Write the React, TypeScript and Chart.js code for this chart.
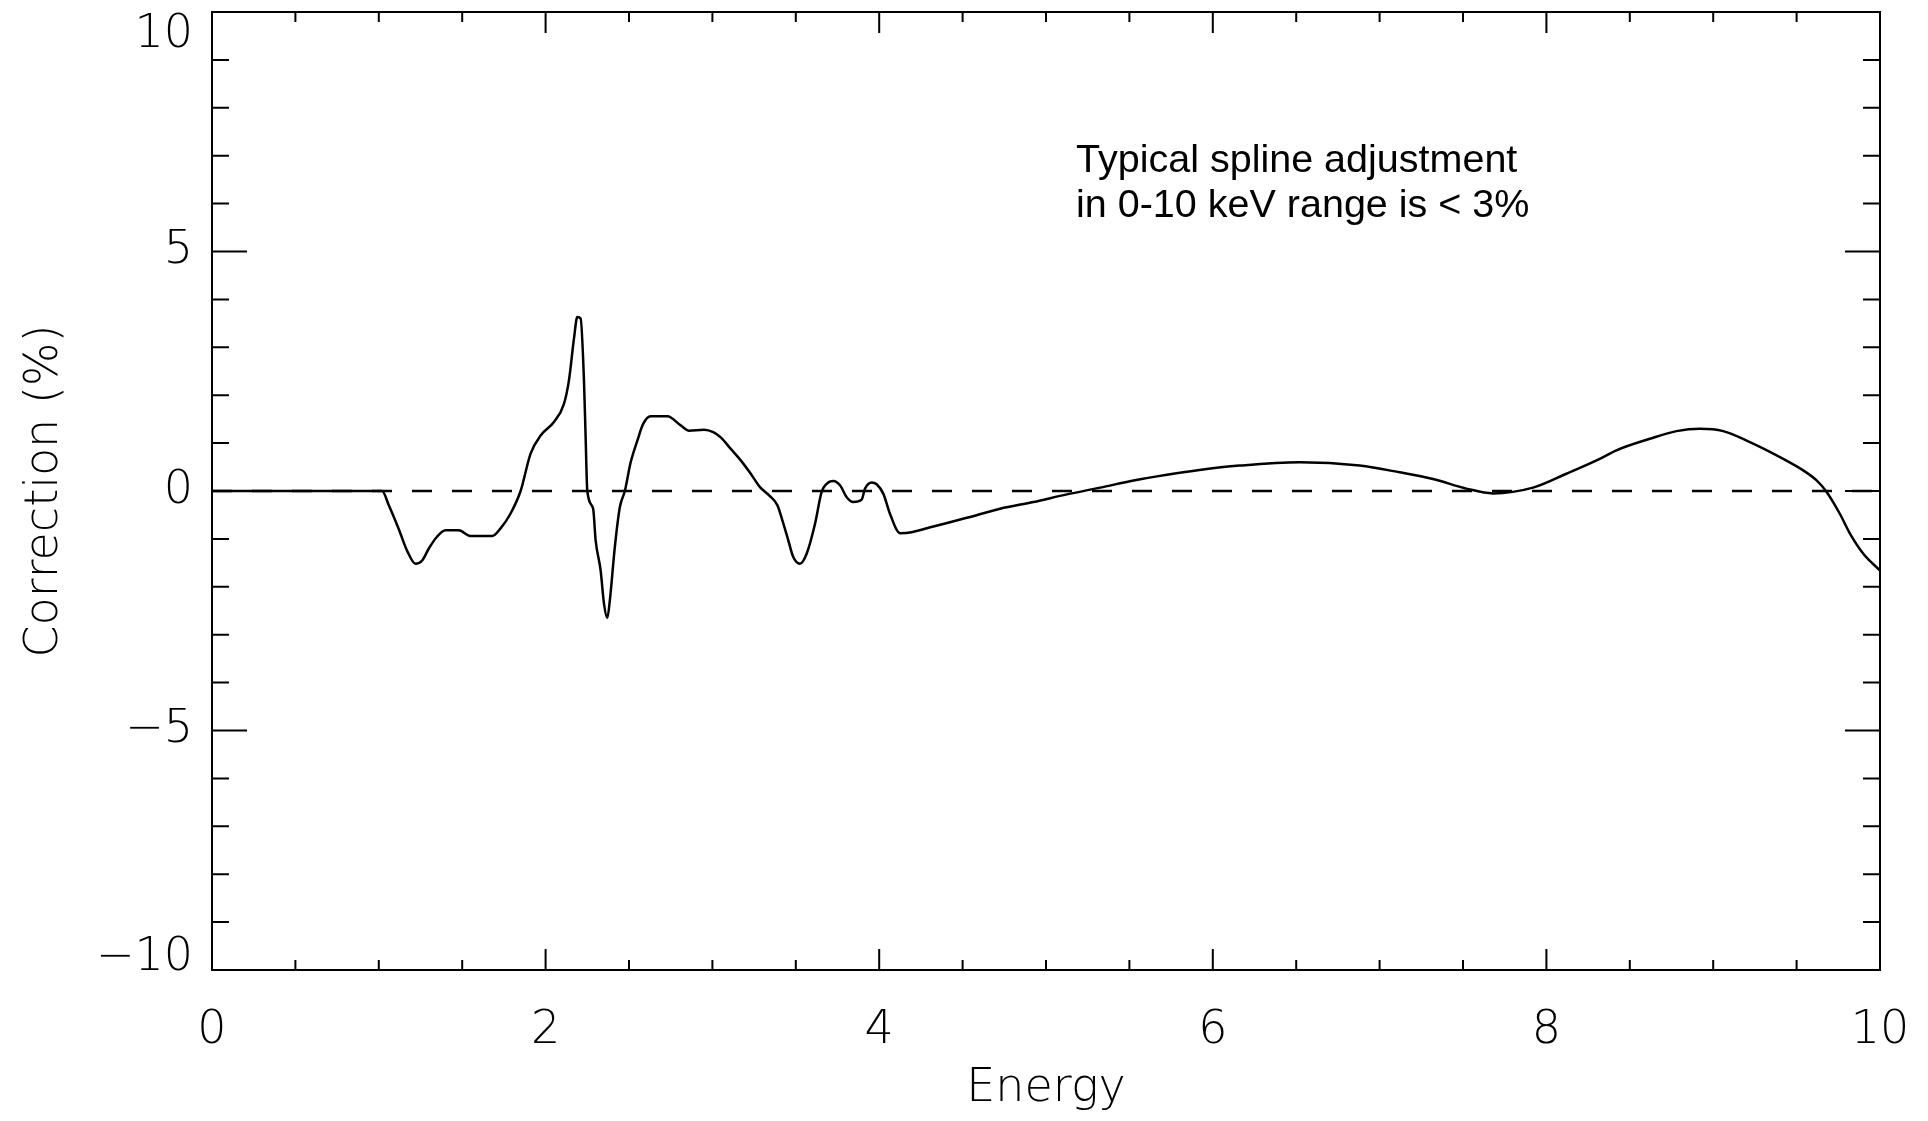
import React, { useEffect, useRef } from "react";
import { Chart, registerables } from "chart.js";

Chart.register(...registerables);

// Energy (keV) and spline correction (%)
const energy = [
  0, 1.0, 1.02, 1.06, 1.12, 1.17, 1.22, 1.26, 1.3, 1.35, 1.4, 1.48, 1.55, 1.68, 1.73, 1.79,
  1.85, 1.91, 1.97, 2.05, 2.11, 2.14, 2.17, 2.19, 2.21, 2.23, 2.24, 2.25, 2.285, 2.3, 2.33,
  2.35, 2.37, 2.385, 2.415, 2.445, 2.475, 2.51, 2.55, 2.585, 2.63, 2.73, 2.81, 2.86, 2.95,
  3.005, 3.05, 3.11, 3.17, 3.23, 3.285, 3.34, 3.39, 3.42, 3.455, 3.485, 3.525, 3.565, 3.615,
  3.655, 3.685, 3.725, 3.765, 3.805, 3.845, 3.895, 3.915, 3.955, 3.985, 4.025, 4.065, 4.125,
  4.195, 4.325, 4.525, 4.725, 4.925, 5.125, 5.325, 5.525, 5.725, 5.92, 6.16, 6.52, 6.88,
  7.12, 7.32, 7.52, 7.68, 7.92, 8.12, 8.32, 8.42, 8.62, 8.78, 8.92, 9.06, 9.22, 9.42, 9.54,
  9.62, 9.68, 9.76, 9.82, 9.9, 10.0,
];

const correction = [
  0, 0, 0, -0.3, -0.8, -1.25, -1.52, -1.45, -1.2, -0.95, -0.82, -0.82, -0.94, -0.94, -0.78, -0.47,
  0, 0.78, 1.16, 1.44, 1.82, 2.31, 3.18, 3.63, 3.6, 2.31, 1.12, 0, -0.37, -1.03, -1.66,
  -2.35, -2.65, -2.29, -1.17, -0.34, 0, 0.6, 1.05, 1.4, 1.56, 1.56, 1.37, 1.26, 1.28,
  1.23, 1.12, 0.88, 0.64, 0.36, 0.08, -0.09, -0.3, -0.62, -1.03, -1.38, -1.52, -1.31, -0.69,
  -0.02, 0.15, 0.21, 0.12, -0.13, -0.23, -0.18, 0.05, 0.18, 0.14, -0.06, -0.48, -0.88,
  -0.86, -0.74, -0.56, -0.37, -0.23, -0.07, 0.07, 0.22, 0.34, 0.44, 0.53, 0.6, 0.53,
  0.39, 0.25, 0.05, -0.05, 0.07, 0.36, 0.67, 0.85, 1.09, 1.25, 1.3, 1.25, 1.02, 0.67, 0.43,
  0.22, -0.02, -0.48, -0.89, -1.31, -1.66,
];

const zeroLineEnergy = [0, 10];
const zeroLineValue = [0, 0];

const yTickValues = [-10, -5, 0, 5, 10];
const yTickLabels = ["\u221210", "\u22125", "0", "5", "10"];

const xTitle = "Energy";
const yTitle = "Correction (%)";
const noteLines = ["Typical spline adjustment", "in 0-10 keV range is < 3%"];

const AXIS_FONT = '"DejaVu Sans", sans-serif';
const AXIS_WEIGHT = 200;

const framePlugin = {
  id: "idlFrame",
  afterDraw(chart: any) {
    const { ctx, chartArea, scales } = chart;
    const { left, right, top, bottom } = chartArea;
    const x = scales.x;
    const y = scales.y;
    ctx.save();
    ctx.strokeStyle = "#000";
    ctx.lineWidth = 2;
    ctx.setLineDash([]);
    ctx.strokeRect(left, top, right - left, bottom - top);
    ctx.beginPath();
    for (let i = 0; i <= 20; i++) {
      const v = x.min + i * 0.5;
      const px = x.getPixelForValue(v);
      const len = i % 4 === 0 ? 21 : 10;
      ctx.moveTo(px, bottom);
      ctx.lineTo(px, bottom - len);
      ctx.moveTo(px, top);
      ctx.lineTo(px, top + len);
    }
    for (let i = 0; i <= 20; i++) {
      const v = y.min + i;
      const py = y.getPixelForValue(v);
      const len = i % 5 === 0 ? 35 : 17;
      ctx.moveTo(left, py);
      ctx.lineTo(left + len, py);
      ctx.moveTo(right, py);
      ctx.lineTo(right - len, py);
    }
    ctx.stroke();

    ctx.fillStyle = "#000";
    ctx.font = `${AXIS_WEIGHT} 46px ${AXIS_FONT}`;
    ctx.textAlign = "right";
    ctx.textBaseline = "middle";
    yTickValues.forEach((v, i) => {
      let py = y.getPixelForValue(v);
      if (v === y.max) py += 23;
      else if (v === y.min) py -= 12;
      ctx.fillText(yTickLabels[i], left - 19, py);
    });

    ctx.font = '39.5px "Liberation Sans", Arial, sans-serif';
    ctx.textAlign = "left";
    ctx.textBaseline = "alphabetic";
    const nx = x.getPixelForValue(5.18);
    const ny = y.getPixelForValue(6.65);
    noteLines.forEach((t, i) => ctx.fillText(t, nx, ny + i * 45));
    ctx.restore();
  },
};

export default function App() {
  const canvasRef = useRef<HTMLCanvasElement | null>(null);

  useEffect(() => {
    if (!canvasRef.current) return;
    const curve = energy.map((e, i) => ({ x: e, y: correction[i] }));
    const zero = zeroLineEnergy.map((e, i) => ({ x: e, y: zeroLineValue[i] }));
    const axisFont = { family: AXIS_FONT, size: 46, weight: AXIS_WEIGHT as any };
    const chart = new Chart(canvasRef.current, {
      type: "line",
      data: {
        datasets: [
          {
            data: curve,
            borderColor: "#000",
            borderWidth: 2.5,
            pointRadius: 0,
            fill: false,
            cubicInterpolationMode: "monotone",
          },
          {
            data: zero,
            borderColor: "#000",
            borderWidth: 2.5,
            borderDash: [20, 20],
            pointRadius: 0,
            fill: false,
          },
        ],
      },
      options: {
        animation: false,
        responsive: false,
        devicePixelRatio: 1,
        layout: { padding: { top: 12, right: 48, left: 0, bottom: 0 } },
        plugins: { legend: { display: false }, tooltip: { enabled: false } },
        scales: {
          x: {
            type: "linear",
            min: 0,
            max: 10,
            grid: { display: false, drawTicks: false },
            border: { display: false },
            ticks: {
              stepSize: 2,
              autoSkip: false,
              maxRotation: 0,
              color: "#000",
              font: axisFont,
              padding: 33,
            },
            title: {
              display: true,
              text: xTitle,
              color: "#000",
              font: { ...axisFont, lineHeight: 1.0 },
              padding: { top: 0, bottom: 9 },
            },
            afterFit: (s: any) => {
              s.height = 151;
              s.paddingLeft = 0;
              s.paddingRight = 0;
            },
          },
          y: {
            type: "linear",
            min: -10,
            max: 10,
            grid: { display: false, drawTicks: false },
            border: { display: false },
            ticks: { display: false, stepSize: 5 },
            title: {
              display: true,
              text: yTitle,
              color: "#000",
              font: axisFont,
              padding: { top: 17, bottom: 0 },
            },
            afterFit: (s: any) => {
              s.width = 212;
              s.paddingTop = 0;
              s.paddingBottom = 0;
            },
          },
        },
      },
      plugins: [framePlugin],
    });
    return () => chart.destroy();
  }, []);

  return (
    <div style={{ position: "fixed", left: 0, top: 0, width: 1928, height: 1121, background: "#fff" }}>
      <canvas ref={canvasRef} width={1928} height={1121} style={{ display: "block" }} />
    </div>
  );
}
